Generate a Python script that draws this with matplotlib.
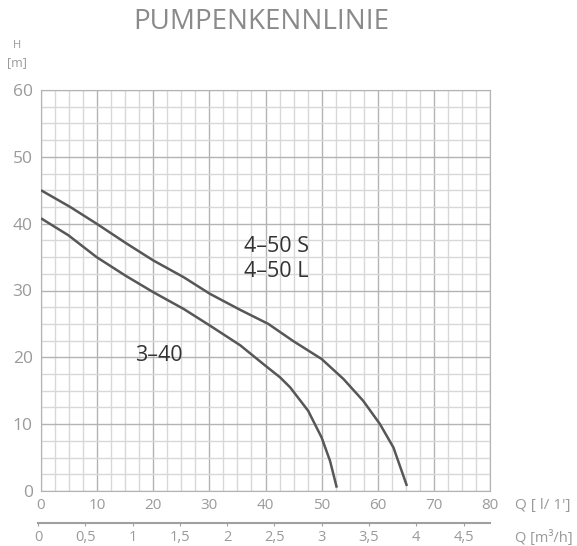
import matplotlib.pyplot as plt
import numpy as np

# Kennlinien (Q in l/min, H in m)
q_340 = [0, 4.9, 9.9, 15.0, 20.0, 25.4, 30.1, 35.5, 39.9, 42.6, 44.4, 47.6, 50.0, 51.5, 52.7]
h_340 = [40.8, 38.25, 35.0, 32.25, 29.75, 27.25, 24.75, 21.8, 18.8, 17.0, 15.5, 12.0, 8.0, 4.5, 0.5]
q_450 = [0, 5.2, 9.9, 15.3, 20.0, 25.4, 30.1, 35.5, 40.5, 45.0, 50.0, 53.9, 57.4, 60.4, 62.8, 65.2]
h_450 = [45.0, 42.5, 40.0, 37.0, 34.5, 32.0, 29.5, 27.1, 25.0, 22.4, 19.75, 16.75, 13.5, 10.0, 6.5, 0.75]

xticks_l = [0, 10, 20, 30, 40, 50, 60, 70, 80]
yticks_m = [0, 10, 20, 30, 40, 50, 60]
xticks_m3 = [0, 0.5, 1, 1.5, 2, 2.5, 3, 3.5, 4, 4.5]
xlabels_m3 = ['0', '0,5', '1', '1,5', '2', '2,5', '3', '3,5', '4', '4,5']

plt.rcParams['font.family'] = ['Open Sans', 'DejaVu Sans']
grau = '#9a9a9a'

fig = plt.figure(figsize=(5.77, 5.46), dpi=100)
ax = fig.add_axes([41/577, 1-491/546, 449/577, 401/546])

# Gitter, alle 2,5 Einheiten
for x in np.arange(0, 80.1, 2.5):
    ax.axvline(x, color='#b3b3b3' if x % 10 == 0 else '#d8d8d8', lw=1.0, zorder=1)
for y in np.arange(0, 60.1, 2.5):
    ax.axhline(y, color='#b3b3b3' if y % 10 == 0 else '#d8d8d8', lw=1.0, zorder=1)

ax.plot(q_340, h_340, color='#575757', lw=1.8, zorder=3, solid_capstyle='butt')
ax.plot(q_450, h_450, color='#575757', lw=1.8, zorder=3, solid_capstyle='butt')

ax.set_xlim(0, 80)
ax.set_ylim(0, 60)
ax.set_xticks(xticks_l)
ax.set_yticks(yticks_m)
for s in ax.spines.values():
    s.set_color('#b3b3b3')
ax.tick_params(axis='x', colors='#b3b3b3', labelcolor=grau, labelsize=11, length=0, pad=5)
ax.tick_params(axis='y', colors='#b3b3b3', labelcolor=grau, labelsize=12.5, length=0, pad=6)

ax.text(36.2, 35.7, '4–50 S', fontsize=15.5, color='#333333')
ax.text(36.2, 31.95, '4–50 L', fontsize=15.5, color='#333333')
ax.text(16.75, 19.5, '3–40', fontsize=15.5, color='#333333')

fig.text(261/577, 1-22/546, 'PUMPENKENNLINIE', fontsize=20, color='#8a8a8a',
         ha='center', va='center')
fig.text(17/577, 1-45/546, 'H', fontsize=8, color=grau, ha='center', va='center')
fig.text(17/577, 1-63/546, '[m]', fontsize=9, color=grau, ha='center', va='center')
fig.text(515/577, 1-505/546, "Q [ l/ 1']", fontsize=11, color=grau, va='center')
fig.text(515/577, 1-538/546, 'Q [m³/h]', fontsize=10.5, color=grau, va='center')

# zweite Achse in m3/h
ax2 = fig.add_axes([38/577, 1-523/546, 452/577, 0.0001])
ax2.set_xlim(0, 4.78)
ax2.set_xticks(xticks_m3)
ax2.set_xticklabels(xlabels_m3)
ax2.set_yticks([])
for k in ['top', 'left', 'right']:
    ax2.spines[k].set_visible(False)
ax2.spines['bottom'].set_color('#a0a0a0')
ax2.spines['bottom'].set_linewidth(1.5)
ax2.tick_params(axis='x', colors='#a0a0a0', labelcolor=grau, labelsize=10.5, length=2, pad=3)

fig.savefig('out.png', dpi=100)
